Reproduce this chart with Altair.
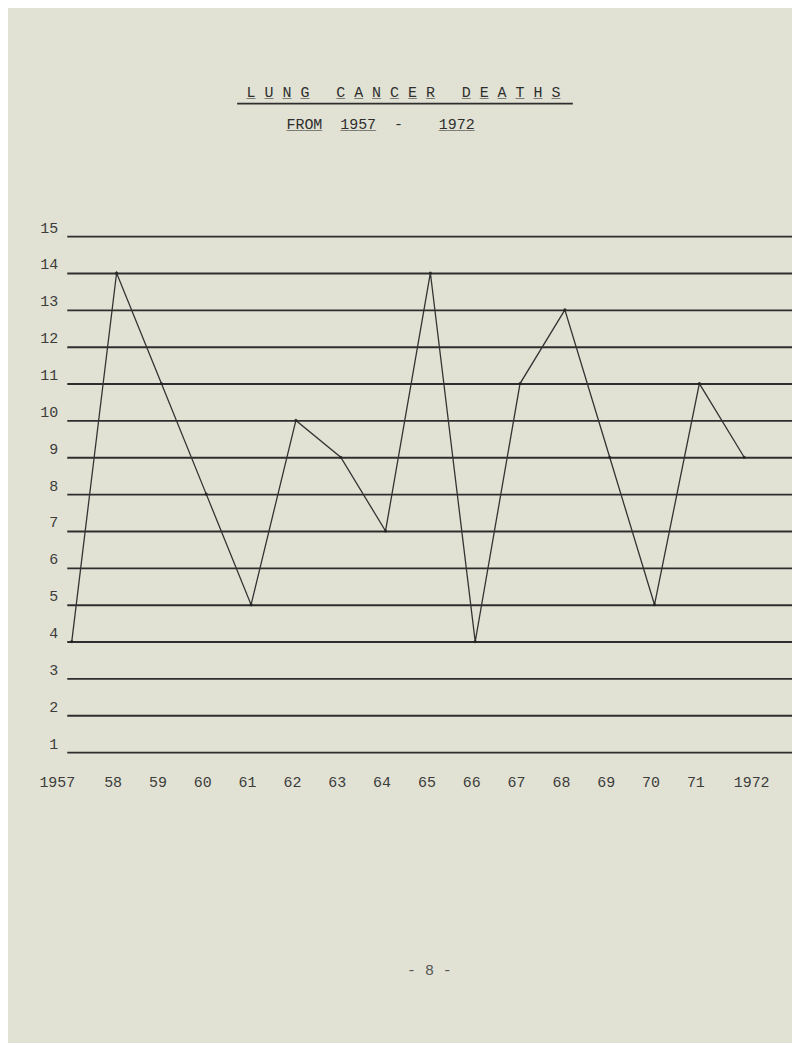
import json
import altair as alt
import pandas as pd

# ---- data -------------------------------------------------------------
years = list(range(1957, 1973))
deaths = [4, 14, 11, 8, 5, 10, 9, 7, 14, 4, 11, 13, 9, 5, 11, 9]
x_tick_labels = ["1957", "58", "59", "60", "61", "62", "63", "64",
                 "65", "66", "67", "68", "69", "70", "71", "1972"]
y_levels = list(range(1, 16))

NB = "\u00a0"
title_text = "L U N G   C A N C E R   D E A T H S".replace(" ", NB)
title_under = "_ _ _ _   _ _ _ _ _ _   _ _ _ _ _ _".replace(" ", NB)
subtitle_text = "FROM  1957  -    1972".replace(" ", NB)
subtitle_under = "____  ____       ____".replace(" ", NB)
footer_text = "- 8 -".replace(" ", NB)

FONT = "Liberation Mono"
INK = "#2e2e2e"
BG = "#e1e2d3"

df = pd.DataFrame({"year": years, "deaths": deaths})

W, H = 728, 518
x_scale = alt.Scale(domain=[1957 - 5 / 45, 1957 + (W - 5) / 45], nice=False, zero=False)
y_scale = alt.Scale(domain=[1, 15], nice=False, zero=False)

label_expr = f"{json.dumps(x_tick_labels)}[datum.value - 1957]"

x_axis = alt.Axis(
    values=years,
    labelExpr=label_expr,
    domain=False,
    ticks=False,
    grid=False,
    title=None,
    labelFont=FONT,
    labelFontSize=15,
    labelColor="#3c3c3c",
    labelPadding=22,
    labelOverlap=False,
    labelAlign={"condition": {"test": "datum.value == 1957", "value": "right"}, "value": "center"},
    labelOffset={"condition": [{"test": "datum.value == 1957", "value": 3},
                               {"test": "datum.value == 1972", "value": 7}], "value": -4},
)
y_axis = alt.Axis(
    values=y_levels,
    tickCount=15,
    format="d",
    domain=False,
    ticks=False,
    grid=True,
    gridColor=INK,
    gridWidth=1.9,
    gridOpacity=1,
    title=None,
    labelFont=FONT,
    labelFontSize=15,
    labelColor="#3c3c3c",
    labelPadding=9,
    labelOverlap=False,
    labelBaseline="alphabetic",
    labelOffset=-4,
)

x_enc = alt.X("year:Q", scale=x_scale, axis=x_axis)
y_enc = alt.Y("deaths:Q", scale=y_scale, axis=y_axis)

base = alt.Chart(df).encode(x=x_enc, y=y_enc)
line = base.mark_line(color="#333333", strokeWidth=1.3)
pts = base.mark_point(filled=True, size=10, color="#222222", opacity=0.8)


def text_layer(txt, x, y, size=15, color=INK, align="center"):
    return alt.Chart(pd.DataFrame({"t": [txt]})).mark_text(
        font=FONT, fontSize=size, color=color, align=align, baseline="alphabetic"
    ).encode(text="t:N", x=alt.value(x), y=alt.value(y))


title = text_layer(title_text, 338, -140)
title_u = text_layer(title_under, 338, -140)
title_rule = alt.Chart(pd.DataFrame({"t": [title_text]})).mark_rule(
    color=INK, strokeWidth=1.8
).encode(x=alt.value(171), x2=alt.value(508), y=alt.value(-133))
sub = text_layer(subtitle_text, 315, -108)
sub_u = text_layer(subtitle_under, 315, -108)
footer = text_layer(footer_text, 364, 742, color="#555555")

chart = alt.layer(
    line, pts, title, title_u, title_rule, sub, sub_u, footer
).properties(
    width=W,
    height=H,
    background=BG,
    padding={"left": 59, "top": 227, "right": 0, "bottom": 290},
    autosize=alt.AutoSizeParams(type="none"),
).configure_view(stroke=None)

chart.save("out.html", embed_options={"renderer": "svg", "actions": False})
